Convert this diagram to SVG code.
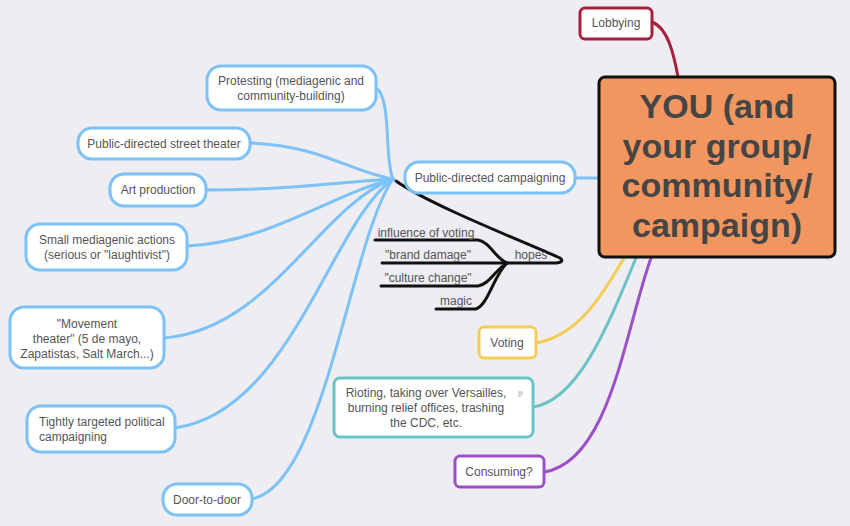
<svg xmlns="http://www.w3.org/2000/svg" width="850" height="526" viewBox="0 0 850 526">
<defs>
<style>
.bg{fill:#EDEDF2}
.n{fill:#fff;stroke-width:3}
.blue{stroke:#7CC2F7}
.t{font-family:"Liberation Sans",Arial,sans-serif;font-size:12px;fill:#555;text-anchor:middle}
.l{text-anchor:start}
.c{fill:none;stroke-width:3;stroke-linecap:round}
.k{stroke:#111}
.big{font-family:"Liberation Sans",Arial,sans-serif;font-size:34px;font-weight:bold;fill:#454545;text-anchor:middle}
</style>
</defs>
<rect class="bg" x="0" y="0" width="850" height="526"/>
<g id="connectors">
<path class="c blue" d="M575,178 L598,178"/>
<path class="c blue" d="M376,88 C392,98 384,160 393,179"/>
<path class="c blue" d="M250,143 C320,145 350,172 393,179"/>
<path class="c blue" d="M206,190 C290,190 340,182 393,179"/>
<path class="c blue" d="M187,246 C270,242 330,195 393,179"/>
<path class="c blue" d="M164,338 C270,330 320,205 393,179"/>
<path class="c blue" d="M175,428 C290,412 330,225 393,179"/>
<path class="c blue" d="M252,499 C325,485 350,240 393,179"/>
<path class="c" stroke="#A8203A" d="M652,22 C668,28 674,55 678,77"/>
<path class="c" stroke="#F5CD55" d="M536,343 C580,336 605,290 624,258"/>
<path class="c" stroke="#6CC3C6" d="M533,407 C580,400 610,320 636,258"/>
<path class="c" stroke="#9C4FC9" d="M544,472 C610,462 625,330 651,258"/>
<path class="c k" d="M396,181 C430,205 520,240 560,258 Q565,262 556,263 L507,263"/>
<path class="c k" d="M375,240 L478,240 C490,242 495,258 507,263"/>
<path class="c k" d="M382,263 L507,263"/>
<path class="c k" d="M381,286 L478,286 C490,284 495,270 507,263"/>
<path class="c k" d="M436,309 L476,309 C488,305 494,275 507,263"/>
</g>
<g id="hopes-labels">
<text class="t" x="531" y="259">hopes</text>
<text class="t" x="426" y="237">influence of voting</text>
<text class="t" x="428" y="259">"brand damage"</text>
<text class="t" x="428" y="282">"culture change"</text>
<text class="t" x="456" y="305">magic</text>
</g>
<g id="you">
<rect x="599" y="77" width="236" height="180" rx="6" fill="#F1965F" stroke="#111" stroke-width="3"/>
<text class="big" x="717" y="118">YOU (and</text>
<text class="big" x="717" y="158">your group/</text>
<text class="big" x="717" y="197">community/</text>
<text class="big" x="717" y="237">campaign)</text>
</g>
<g id="lobbying">
<rect class="n" x="580" y="8" width="72" height="31" rx="5" stroke="#A8203A"/>
<text class="t" x="616" y="27">Lobbying</text>
</g>
<g id="public-campaigning">
<rect class="n blue" x="405" y="162" width="170" height="31" rx="14"/>
<text class="t" x="490" y="182">Public-directed campaigning</text>
</g>
<g id="protesting">
<rect class="n blue" x="207" y="66" width="169" height="44" rx="14"/>
<text class="t" x="291" y="85">Protesting (mediagenic and</text>
<text class="t" x="291" y="100">community-building)</text>
</g>
<g id="street-theater">
<rect class="n blue" x="78" y="128" width="172" height="31" rx="14"/>
<text class="t" x="164" y="148">Public-directed street theater</text>
</g>
<g id="art">
<rect class="n blue" x="110" y="174" width="96" height="32" rx="14"/>
<text class="t" x="158" y="194">Art production</text>
</g>
<g id="small-actions">
<rect class="n blue" x="26" y="224" width="161" height="46" rx="14"/>
<text class="t" x="107" y="244">Small mediagenic actions</text>
<text class="t" x="107" y="259">(serious or "laughtivist")</text>
</g>
<g id="movement-theater">
<rect class="n blue" x="10" y="307" width="154" height="61" rx="14"/>
<text class="t" x="87" y="328">"Movement</text>
<text class="t" x="87" y="343">theater" (5 de mayo,</text>
<text class="t" x="87" y="358">Zapatistas, Salt March...)</text>
</g>
<g id="tightly-targeted">
<rect class="n blue" x="27" y="406" width="148" height="46" rx="14"/>
<text class="t l" x="39" y="426">Tightly targeted political</text>
<text class="t l" x="39" y="441">campaigning</text>
</g>
<g id="door-to-door">
<rect class="n blue" x="163" y="484" width="89" height="31" rx="14"/>
<text class="t" x="207" y="504">Door-to-door</text>
</g>
<g id="voting">
<rect class="n" x="479" y="327" width="57" height="31" rx="5" stroke="#F5CD55"/>
<text class="t" x="507" y="347">Voting</text>
</g>
<g id="rioting">
<rect class="n" x="334" y="378" width="199" height="59" rx="6" stroke="#6CC3C6"/>
<text class="t" x="426" y="397">Rioting, taking over Versailles,</text>
<text class="t" x="426" y="412">burning relief offices, trashing</text>
<text class="t" x="426" y="427">the CDC, etc.</text>
<g stroke="#999" stroke-width="0.8"><line x1="518" y1="392" x2="523" y2="392"/><line x1="518" y1="394" x2="523" y2="394"/><line x1="518" y1="396" x2="521" y2="396"/></g>
</g>
<g id="consuming">
<rect class="n" x="455" y="456" width="89" height="31" rx="5" stroke="#9C4FC9"/>
<text class="t" x="499" y="476">Consuming?</text>
</g>
</svg>
